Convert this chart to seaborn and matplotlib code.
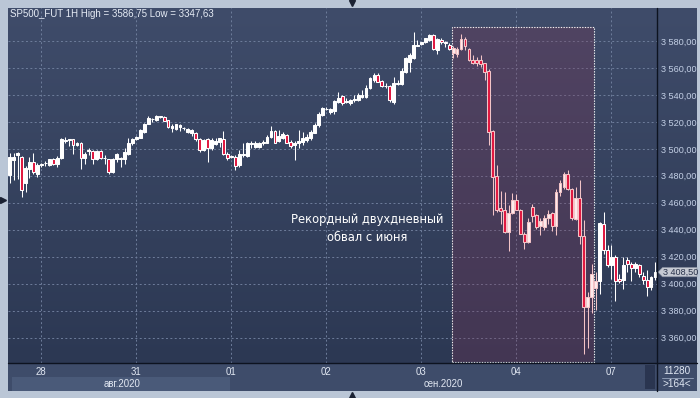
import numpy as np
import pandas as pd
import seaborn as sns
import matplotlib
matplotlib.use("Agg")
import matplotlib.pyplot as plt
from matplotlib.patches import Rectangle, Polygon
from matplotlib.lines import Line2D
from matplotlib.colors import LinearSegmentedColormap
import matplotlib.transforms as mtransforms

# ---------------- data (hourly candles, 27 Aug - 07 Sep 2020) ----------------
OPEN = [3480.4, 3491.6, 3495.3, 3494.0, 3474.5, 3485.4, 3490.3, 3481.6,
        3488.0, 3489.2, 3487.8, 3492.1, 3489.1, 3493.3, 3506.0, 3506.4, 3507.0, 3502.7, 3504.4, 3492.9,
        3498.2, 3498.5, 3492.1, 3498.5, 3493.2, 3492.1, 3482.9, 3492.3, 3492.5, 3492.3, 3496.5, 3504.0,
        3507.0, 3508.1, 3512.6, 3518.3, 3521.8, 3521.3, 3523.5, 3523.7, 3521.3, 3515.5, 3515.0, 3516.3,
        3515.3, 3512.6, 3511.4, 3512.1, 3507.2, 3499.5, 3507.0, 3500.3, 3503.4, 3505.1, 3507.2, 3496.5,
        3494.3, 3494.0, 3487.8, 3495.5, 3494.7, 3503.7, 3501.4, 3501.4, 3504.2, 3504.4, 3508.9, 3513.1,
        3505.9, 3508.4, 3510.1, 3505.1, 3503.0, 3504.0, 3505.1, 3506.4, 3507.7, 3511.8, 3517.5, 3525.0,
        3529.2, 3527.4, 3528.2, 3534.9, 3539.1, 3534.6, 3533.7, 3536.1, 3536.1, 3538.6, 3538.6, 3544.8,
        3551.0, 3554.7, 3550.3, 3546.8, 3546.5, 3534.9, 3548.0, 3547.8, 3557.2, 3564.6, 3567.1, 3576.5,
        3577.8, 3579.0, 3580.7, 3584.5, 3573.3, 3580.7, 3578.5, 3577.0, 3570.9, 3570.3, 3573.8, 3581.3,
        3573.8, 3565.9, 3565.9, 3565.9, 3563.4, 3557.7, 3513.3, 3479.6, 3456.4, 3454.3, 3438.2, 3452.3,
        3462.3, 3454.9, 3437.0, 3430.8, 3456.6, 3450.6, 3442.7, 3441.9, 3448.9, 3452.3, 3442.5, 3467.9,
        3471.7, 3481.6, 3470.5, 3448.2, 3463.8, 3435.0, 3383.0, 3390.4, 3397.1, 3401.9, 3444.5, 3425.1,
        3413.5, 3419.6, 3403.6, 3403.0, 3417.7, 3414.2, 3411.5, 3413.5, 3406.0, 3402.8, 3397.3, 3404.8]
HIGH = [3496.8, 3496.8, 3497.7, 3495.0, 3487.1, 3494.0, 3496.8, 3489.3,
        3489.5, 3491.2, 3492.5, 3493.1, 3494.8, 3507.7, 3508.9, 3507.2, 3507.2, 3505.2, 3505.2, 3497.7,
        3500.3, 3499.0, 3499.0, 3499.0, 3495.8, 3492.5, 3492.9, 3497.0, 3494.0, 3500.3, 3507.7, 3508.4,
        3509.7, 3514.6, 3519.5, 3524.5, 3523.0, 3525.0, 3524.5, 3524.7, 3521.5, 3518.8, 3518.8, 3518.8,
        3516.3, 3515.5, 3514.6, 3512.6, 3507.7, 3507.2, 3507.7, 3507.7, 3508.1, 3508.4, 3513.1, 3497.7,
        3495.3, 3495.3, 3499.0, 3504.0, 3505.2, 3505.9, 3505.6, 3505.4, 3506.4, 3510.1, 3516.8, 3513.8,
        3513.8, 3512.6, 3510.9, 3506.4, 3505.9, 3513.8, 3512.6, 3510.9, 3513.8, 3519.3, 3527.4, 3531.2,
        3530.7, 3530.0, 3536.1, 3542.3, 3539.9, 3537.4, 3536.9, 3539.9, 3541.1, 3543.6, 3547.3, 3553.5,
        3556.0, 3556.4, 3551.0, 3548.5, 3547.3, 3553.5, 3551.0, 3560.1, 3568.3, 3570.9, 3586.75, 3580.7,
        3579.5, 3582.5, 3585.5, 3585.0, 3582.5, 3582.5, 3580.0, 3578.3, 3576.3, 3575.2, 3585.2, 3582.7,
        3574.6, 3569.6, 3567.9, 3569.6, 3563.9, 3558.9, 3513.8, 3487.8, 3468.5, 3468.0, 3458.1, 3467.2,
        3466.2, 3455.6, 3438.2, 3448.9, 3458.8, 3451.9, 3448.9, 3450.6, 3454.9, 3453.1, 3470.5, 3477.2,
        3482.8, 3484.1, 3471.2, 3471.7, 3477.2, 3446.9, 3393.6, 3414.2, 3408.5, 3445.6, 3453.1, 3428.3,
        3428.3, 3420.9, 3406.8, 3419.6, 3419.6, 3415.9, 3415.9, 3414.2, 3408.5, 3410.3, 3406.0, 3415.9]
LOW = [3474.5, 3476.7, 3477.4, 3464.2, 3467.7, 3478.4, 3481.6, 3479.2,
       3486.6, 3487.3, 3487.3, 3487.8, 3486.6, 3492.8, 3504.7, 3502.0, 3496.5, 3502.0, 3485.4, 3489.1,
       3495.3, 3489.1, 3491.6, 3492.3, 3489.1, 3481.7, 3482.1, 3490.3, 3486.6, 3489.1, 3495.8, 3503.2,
       3506.4, 3507.7, 3512.1, 3518.1, 3520.0, 3520.8, 3522.7, 3520.5, 3515.8, 3512.6, 3513.8, 3513.1,
       3513.8, 3511.4, 3509.4, 3506.0, 3497.7, 3498.5, 3490.3, 3499.5, 3502.7, 3501.4, 3495.8, 3491.6,
       3492.9, 3484.1, 3486.6, 3494.0, 3494.0, 3500.9, 3500.9, 3500.5, 3502.7, 3504.0, 3507.7, 3504.0,
       3505.2, 3507.2, 3504.0, 3500.9, 3491.6, 3500.3, 3502.7, 3505.2, 3506.4, 3511.4, 3516.3, 3524.2,
       3528.7, 3526.2, 3526.2, 3533.7, 3532.4, 3533.7, 3532.4, 3534.9, 3535.4, 3537.8, 3537.8, 3544.3,
       3549.7, 3549.3, 3546.0, 3544.8, 3534.4, 3533.2, 3547.3, 3547.3, 3556.0, 3557.2, 3566.5, 3576.3,
       3577.0, 3578.3, 3580.0, 3573.3, 3570.1, 3577.5, 3575.8, 3573.3, 3567.4, 3568.3, 3573.3, 3573.3,
       3565.4, 3562.7, 3561.4, 3560.9, 3551.0, 3502.7, 3450.6, 3453.1, 3444.5, 3437.5, 3424.1, 3451.9,
       3454.3, 3436.5, 3425.9, 3430.3, 3445.6, 3440.7, 3435.8, 3439.5, 3444.5, 3439.0, 3435.8, 3464.8,
       3470.5, 3469.2, 3447.4, 3446.9, 3429.6, 3347.63, 3352.3, 3378.0, 3380.5, 3392.6, 3422.2, 3412.2,
       3403.6, 3387.4, 3400.3, 3396.1, 3408.5, 3402.3, 3408.5, 3404.8, 3399.8, 3391.1, 3394.9, 3403.0]
CLOSE = [3493.8, 3494.0, 3496.8, 3469.2, 3485.6, 3490.3, 3482.9, 3487.8,
         3489.0, 3489.8, 3492.1, 3488.6, 3493.3, 3507.2, 3506.7, 3506.6, 3502.7, 3504.4, 3492.9, 3496.5,
         3498.7, 3492.1, 3498.5, 3492.9, 3492.9, 3482.9, 3492.1, 3496.0, 3493.5, 3497.7, 3504.7, 3507.2,
         3508.9, 3513.8, 3518.8, 3523.0, 3522.3, 3524.2, 3524.0, 3520.7, 3516.3, 3517.0, 3518.1, 3517.5,
         3515.1, 3514.6, 3513.8, 3507.0, 3499.5, 3506.4, 3500.7, 3506.4, 3505.6, 3507.7, 3496.5, 3493.5,
         3493.8, 3487.3, 3496.5, 3496.0, 3504.0, 3504.2, 3504.4, 3504.4, 3504.6, 3508.9, 3513.1, 3504.7,
         3509.4, 3510.9, 3504.4, 3502.2, 3504.4, 3505.9, 3507.7, 3508.9, 3512.6, 3517.5, 3526.2, 3530.0,
         3529.5, 3529.2, 3535.4, 3537.8, 3533.7, 3534.9, 3536.1, 3536.6, 3539.9, 3539.9, 3544.8, 3552.3,
         3554.7, 3549.7, 3546.5, 3546.3, 3536.1, 3548.6, 3548.6, 3557.7, 3567.1, 3569.6, 3577.0, 3577.0,
         3579.0, 3582.0, 3584.5, 3573.8, 3581.3, 3579.0, 3578.9, 3573.8, 3574.6, 3574.1, 3581.3, 3576.3,
         3565.9, 3563.4, 3563.4, 3562.7, 3557.2, 3512.6, 3479.1, 3454.3, 3453.6, 3438.2, 3452.3, 3462.3,
         3454.9, 3437.0, 3430.8, 3445.6, 3450.4, 3441.9, 3446.4, 3448.9, 3451.9, 3442.5, 3467.9, 3474.6,
         3481.6, 3470.5, 3448.9, 3463.8, 3435.0, 3383.0, 3390.4, 3407.3, 3401.9, 3444.9, 3425.1, 3414.0,
         3419.6, 3402.3, 3402.3, 3413.5, 3414.2, 3411.7, 3414.2, 3406.8, 3402.8, 3397.3, 3404.8, 3408.5]

DAY_LABELS = ["27", "28", "31", "01", "02", "03", "04", "07"]
DAY_COUNTS = [8, 24, 24, 24, 24, 24, 24, 12]
MONTH_LABELS = ["авг.2020", "сен.2020"]
Y_TICKS = [3360, 3380, 3400, 3420, 3440, 3460, 3480, 3500, 3520, 3540, 3560, 3580]
TITLE = "SP500_FUT 1H High = 3586,75 Low = 3347,63"
ANNOTATION = "Рекордный двухдневный\nобвал с июня"
LAST_PRICE = 3408.50
VOLUME_TEXT = "11280"
BARS_TEXT = ">164<"

# ---------------- style ----------------
sns.set_theme(style="dark")
plt.rcParams["font.family"] = ["Liberation Sans", "DejaVu Sans"]
SMALL = 6.6

W, H = 700, 398
fig = plt.figure(figsize=(W / 100, H / 100), dpi=100)
fig.patch.set_facecolor("#bac6d6")


def frect(x0, y0, x1, y1, color, z=-2):
    fig.add_artist(Rectangle((x0 / W, 1 - y1 / H), (x1 - x0) / W, (y1 - y0) / H,
                             transform=fig.transFigure, facecolor=color,
                             edgecolor="none", zorder=z))


def fline(xs, ys, color, lw=1.0, z=5):
    fig.add_artist(Line2D([x / W for x in xs], [1 - y / H for y in ys],
                          transform=fig.transFigure, color=color, lw=lw, zorder=z))


def ftext(x, y, s, **kw):
    fig.text(x / W, 1 - y / H, s, **kw)


bg_cmap = LinearSegmentedColormap.from_list("bg", ["#3f4c6a", "#2c3853"])
grad = np.linspace(0, 1, 256).reshape(-1, 1)

# right price panel
rax = fig.add_axes([657 / W, 1 - 363 / H, 40 / W, 355 / H], zorder=-1)
rax.imshow(grad, aspect="auto", cmap=bg_cmap, extent=(0, 1, 0, 1))
rax.set_axis_off()

# bottom bars
frect(8, 363, 697, 391, "#3e4c6a")
frect(12, 377, 230, 391, "#4a5a79")
frect(645, 365, 655, 389, "#2a3550")

# ---------------- main axes ----------------
ax = fig.add_axes([8 / W, 1 - 363 / H, 649 / W, 355 / H])
ax.set_facecolor("none")
ax.imshow(grad, aspect="auto", cmap=bg_cmap, extent=(0, 1, 0, 1),
          transform=ax.transAxes, zorder=0)

df = pd.DataFrame({"open": OPEN, "high": HIGH, "low": LOW, "close": CLOSE})
df["idx"] = np.arange(len(df))
df["up"] = df["close"] >= df["open"]

HL_LEFT, HL_RIGHT = 111.6, 147.7
in_zone = (df["idx"] >= 112) & (df["idx"] <= 148)

edge = np.where(in_zone, "#f3c4c7", "#ffffff")
fill = np.where(df["up"], np.where(in_zone, "#fdeced", "#ffffff"), "#e0163f")

# highlight zone
ax.add_patch(Rectangle((HL_LEFT, 3341.5), HL_RIGHT - HL_LEFT, 3590.3 - 3341.5,
                       facecolor="#7a3354", alpha=0.30, edgecolor="none", zorder=1))
ax.add_patch(Rectangle((HL_LEFT, 3341.5), HL_RIGHT - HL_LEFT, 3590.3 - 3341.5,
                       facecolor="none", edgecolor="#f2f2f2", lw=0.8,
                       ls=(0, (1.2, 1.2)), zorder=2))

ax.vlines(df["idx"], df["low"], df["high"], colors=edge, lw=0.75, zorder=3)
body_lo = np.minimum(df["open"], df["close"])
body_h = np.maximum(np.abs(df["close"] - df["open"]), 0.6)
ax.bar(df["idx"], body_h, bottom=body_lo, width=0.72, color=fill,
       edgecolor=edge, linewidth=0.75, zorder=4)

ax.set_xlim(-0.43, 163.5)
ax.set_ylim(3341.1, 3604.5)
ax.set_autoscale_on(False)

starts = np.concatenate([[0], np.cumsum(DAY_COUNTS)[:-1]])
ax.set_xticks(starts[1:])
ax.set_xticklabels(DAY_LABELS[1:])
ax.set_yticks(Y_TICKS)
ax.set_yticklabels([f"{v:,.2f}".replace(",", " ").replace(".", ",") for v in Y_TICKS])
ax.yaxis.tick_right()
ax.tick_params(axis="y", length=0, pad=3, labelsize=SMALL, labelcolor="#c4d0e6")
ax.tick_params(axis="x", length=0, pad=3, labelsize=SMALL + 0.3, labelcolor="#e2e8f3")
ax.grid(True, color="#6e7d9b", lw=0.7, ls=(0, (2, 2.5)))
ax.set_axisbelow(True)
for s in ax.spines.values():
    s.set_visible(False)

ax.text(90.2, 3441.0, ANNOTATION, ha="center", va="center", color="white",
        fontsize=8.3, linespacing=1.45, zorder=6, family="DejaVu Sans")
ax.text(0.003, 0.982, TITLE, transform=ax.transAxes, ha="left", va="center",
        color="#e6ecf5", fontsize=7.0, zorder=6)

# last price tag
bt = mtransforms.blended_transform_factory(ax.transAxes, ax.transData)
hh = 3.4
ax.add_patch(Polygon([(1.0015, LAST_PRICE), (1.0085, LAST_PRICE + hh), (1.0616, LAST_PRICE + hh),
                      (1.0616, LAST_PRICE - hh), (1.0085, LAST_PRICE - hh)], closed=True,
                     transform=bt, facecolor="#c6cad3", edgecolor="#8e96a6", lw=0.5,
                     clip_on=False, zorder=7))
ax.text(1.0095, LAST_PRICE, f"{LAST_PRICE:,.2f}".replace(",", " ").replace(".", ","),
        transform=bt, ha="left", va="center", fontsize=SMALL, color="#28324a",
        clip_on=False, zorder=8)

# frame lines
fline([657, 657], [8, 391], "#0d1320", lw=1.0)
fline([8, 697], [363.3, 363.3], "#0d1320", lw=1.0)

# month labels & panel text
ftext(122, 384, MONTH_LABELS[0], ha="center", va="center", fontsize=SMALL + 0.3, color="#e2e8f3")
ftext(443, 384, MONTH_LABELS[1], ha="center", va="center", fontsize=SMALL + 0.3, color="#e2e8f3")
ftext(677, 370.5, VOLUME_TEXT, ha="center", va="center", fontsize=SMALL + 0.6, color="#dfe6f2")
fline([662, 693], [377.5, 377.5], "#8c9ab3", lw=0.7)
ftext(677, 384, BARS_TEXT, ha="center", va="center", fontsize=SMALL + 0.6, color="#dfe6f2")

# small navigation arrows
for (x, y, m) in [(352, 3, "v"), (352, 395, "^"), (3, 200, ">")]:
    fig.add_artist(Line2D([x / W], [1 - y / H], marker=m, ms=4.5, color="#1b2233",
                          transform=fig.transFigure, zorder=6))

fig.savefig("out.png", dpi=100, facecolor=fig.get_facecolor())
